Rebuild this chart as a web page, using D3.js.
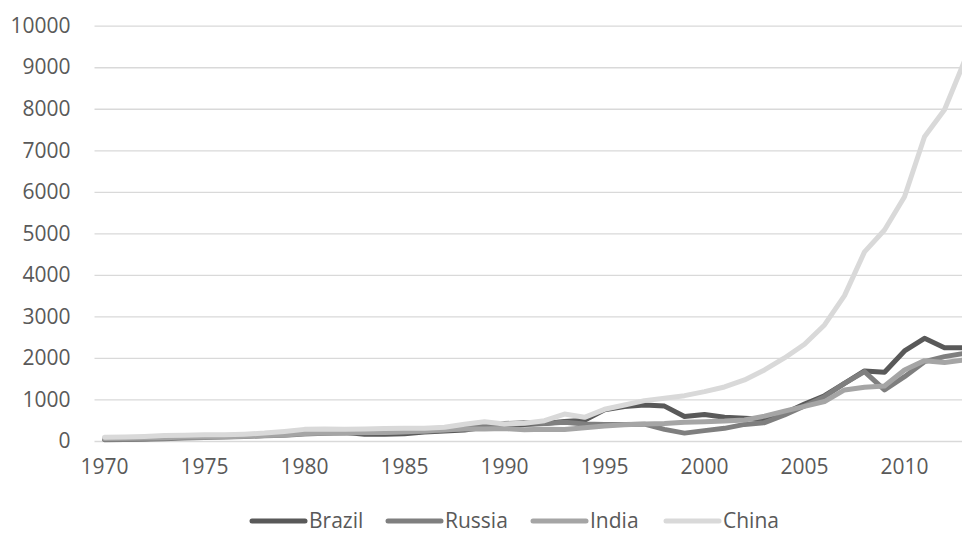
<!DOCTYPE html>
<html>
<head>
<meta charset="utf-8">
<script src="https://cdn.jsdelivr.net/npm/d3@7"></script>
<style>
  html, body { margin: 0; padding: 0; background: #fff; }
  svg { display: block; }
  text { font-family: "Open Sans", "Noto Sans", sans-serif; fill: #595959; }
</style>
</head>
<body>
<svg id="chart" width="962" height="543"></svg>
<script>
// GDP, billions of US dollars, 1970–2013
const years = d3.range(1970, 2014);
const brazil = [40, 45, 55, 70, 90, 105, 120, 135, 150, 165,
  185, 200, 210, 165, 160, 175, 215, 240, 265, 330,
  380, 400, 420, 470, 500, 750, 830, 865, 840, 590,
  640, 570, 546, 520, 666, 890, 1090, 1389, 1686, 1654,
  2168, 2473, 2248, 2248];
const russia = [30, 35, 45, 55, 70, 85, 95, 110, 125, 140,
  170, 185, 195, 200, 205, 215, 235, 260, 300, 380,
  420, 440, 420, 450, 410, 400, 400, 405, 280, 190,
  250, 305, 400, 442, 626, 843, 1068, 1389, 1670, 1229,
  1550, 1911, 2032, 2112];
const india = [60, 65, 70, 80, 95, 95, 100, 115, 130, 145,
  180, 190, 195, 210, 205, 225, 240, 270, 290, 290,
  300, 270, 280, 275, 320, 360, 390, 410, 420, 450,
  466, 480, 506, 600, 720, 834, 950, 1230, 1293, 1325,
  1710, 1935, 1890, 1950];
const china = [90, 95, 110, 130, 140, 150, 150, 165, 190, 230,
  280, 290, 285, 290, 300, 305, 305, 329, 402, 466,
  410, 425, 490, 650, 570, 763, 867, 972, 1028, 1092,
  1188, 1301, 1470, 1711, 2000, 2330, 2795, 3500, 4554, 5080,
  5880, 7325, 7976, 9150];
const yTicks = [0, 1000, 2000, 3000, 4000, 5000, 6000, 7000, 8000, 9000, 10000];
const xTickLabels = [1970, 1975, 1980, 1985, 1990, 1995, 2000, 2005, 2010];

const series = [
  { name: "Brazil", values: brazil, color: "#595959" },
  { name: "Russia", values: russia, color: "#7f7f7f" },
  { name: "India",  values: india,  color: "#a5a5a5" },
  { name: "China",  values: china,  color: "#d9d9d9" }
];

const svg = d3.select("#chart");
const plot = { left: 94.5, right: 974.5, top: 25.7, bottom: 441 };
const fontSize = "21px";

const x = d3.scaleBand().domain(years).range([plot.left, plot.right]);
const xc = d => x(d) + x.bandwidth() / 2;
const y = d3.scaleLinear().domain([0, 10000]).range([plot.bottom, plot.top]);

// horizontal gridlines + value labels
const yAxis = svg.append("g")
  .attr("transform", `translate(${plot.left},0)`)
  .call(d3.axisLeft(y).tickValues(yTicks).tickSize(-(plot.right - plot.left)).tickPadding(24).tickFormat(d3.format("d")));
yAxis.select(".domain").remove();
yAxis.selectAll(".tick line").attr("stroke", "#d9d9d9").attr("stroke-width", 1.3);
yAxis.selectAll(".tick text").style("font-size", fontSize).attr("fill", "#595959");

// category labels every five years
const xAxis = svg.append("g")
  .attr("transform", `translate(0,${plot.bottom})`)
  .call(d3.axisBottom(x).tickValues(xTickLabels).tickSize(0).tickPadding(18));
xAxis.select(".domain").remove();
xAxis.selectAll(".tick text").style("font-size", fontSize).attr("fill", "#595959");

// series lines
const line = d3.line()
  .x((d, i) => xc(years[i]))
  .y(d => y(d));

svg.append("g").selectAll("path")
  .data(series)
  .join("path")
  .attr("d", s => line(s.values))
  .attr("fill", "none")
  .attr("stroke", s => s.color)
  .attr("stroke-width", 5)
  .attr("stroke-linejoin", "round")
  .attr("stroke-linecap", "round");

// legend
const legendX = [252, 388, 533, 666];
const legend = svg.append("g").attr("transform", "translate(0,521)");
const item = legend.selectAll("g").data(series).join("g")
  .attr("transform", (s, i) => `translate(${legendX[i]},0)`);
item.append("line")
  .attr("x1", 0).attr("x2", 53).attr("y1", 0).attr("y2", 0)
  .attr("stroke", s => s.color).attr("stroke-width", 5).attr("stroke-linecap", "round");
item.append("text")
  .attr("x", 57).attr("y", 0).attr("dy", "0.35em")
  .style("font-size", fontSize)
  .text(s => s.name);
</script>
</body>
</html>
